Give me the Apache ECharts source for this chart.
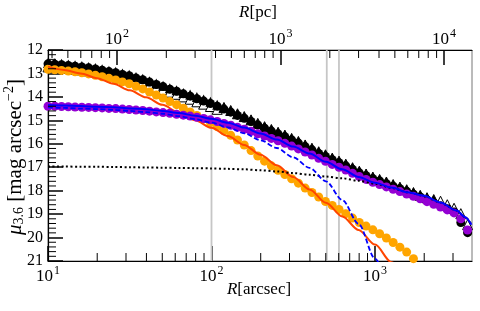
<!DOCTYPE html>
<html>
<head>
<meta charset="utf-8">
<script src="https://cdn.jsdelivr.net/npm/echarts@6/dist/echarts.min.js"></script>
<style>html,body{margin:0;padding:0;background:#fff}#c{width:480px;height:311px}</style>
</head>
<body>
<div id="c"></div>
<script>
// ---------- data ----------
const radius = [10,11,12.1,13.31,14.64,16.11,17.72,19.49,21.44,23.58,
  25.94,28.53,31.38,34.52,37.97,41.77,45.95,50.54,55.6,61.16,
  67.27,74.0,81.4,89.54,98.5,108.35,119.18,131.1,144.2,158.6,
  174.5,191.9,211.1,232.3,255.5,281.0,309.1,340.0,374.0,411.4,
  452.6,497.9,547.7,602.4,662.7,728.9,801.8,882.0,970.2,1067.2,
  1173.9,1291.3,1420.4,1562.5,1718.7,1890.6,2079.6,2287.6,2516.4,2768.0,
  3044.8,3349.3,3684.2];

const totalMu = [12.59,12.61,12.63,12.66,12.69,12.72,12.76,12.81,12.86,12.92,
  12.97,13.04,13.10,13.19,13.27,13.37,13.47,13.56,13.67,13.76,
  13.87,13.97,14.08,14.18,14.28,14.40,14.52,14.65,14.79,14.91,
  15.05,15.20,15.34,15.46,15.58,15.70,15.84,15.97,16.12,16.26,
  16.41,16.54,16.68,16.81,16.94,17.09,17.24,17.36,17.49,17.59,
  17.70,17.81,17.92,18.03,18.15,18.27,18.40,18.52,18.65,18.77,
  18.91,19.36,19.79];

const triFilledMu = [12.55,12.57,12.59,12.62,12.65,12.68,12.72,12.77,12.82,12.88,
  12.93,13.00,13.06,13.15,13.23,13.33,13.43,13.52,13.63,13.72,
  13.83,13.90,14.01,14.11,14.21,14.33,14.45,14.58,14.72,14.84,
  14.98,15.13,15.27,15.39,15.51,15.63,15.77,15.90,16.05,16.19,
  16.34,16.47,16.61,16.74,16.87,17.02,17.17,17.29,17.42,17.52,
  17.63,17.74,17.85,17.96,18.08,18.20,18.30,18.38];

const triOpenMu = [12.72,12.74,12.76,12.79,12.82,12.85,12.89,12.94,12.99,13.05,
  13.10,13.17,13.23,13.32,13.40,13.50,13.60,13.69,13.80,13.89,
  14.00,14.10,14.21,14.31,14.41,14.53,14.45,14.58,14.72,14.84,
  14.98,15.13,15.27,15.39,15.51,15.63,15.77,15.90,16.05,16.19,
  16.34,16.47,16.61,16.74,16.87,17.02,17.17,17.29,17.42,17.52,
  17.63,17.74,17.85,17.96,18.08,18.20,18.30,18.38,18.45,18.60,
  18.75,18.98,19.45];

const bulgeMu = [12.82,12.84,12.87,12.90,12.93,12.97,13.02,13.08,13.14,13.21,
  13.28,13.36,13.44,13.55,13.66,13.79,13.92,14.05,14.20,14.33,
  14.48,14.64,14.79,14.94,15.09,15.27,15.45,15.64,15.84,16.05,
  16.29,16.52,16.74,16.94,17.13,17.31,17.49,17.68,17.89,18.08,
  18.27,18.46,18.63,18.80,18.98,19.17,19.36,19.51,19.67,19.84,
  20.02,20.21,20.41,20.62,20.90];

const diskMu = [14.40,14.40,14.41,14.42,14.43,14.44,14.45,14.46,14.47,14.49,
  14.50,14.52,14.54,14.56,14.58,14.61,14.64,14.67,14.70,14.74,
  14.78,14.82,14.87,14.92,14.98,15.05,15.13,15.21,15.30,15.38,
  15.47,15.57,15.67,15.77,15.87,15.98,16.10,16.22,16.35,16.48,
  16.62,16.75,16.88,17.00,17.12,17.26,17.40,17.52,17.64,17.74,
  17.84,17.94,18.04,18.14,18.24,18.35,18.47,18.58,18.70,18.82,
  18.95,19.20,19.68];

const modelR = [10,12.59,15.85,19.95,25.12,31.62,39.81,50.12,63.10,79.43,
  100,125.9,158.5,199.5,251.2,316.2,398.1,501.2,631.0,794.3,
  1000,1259,1585,1995,2512,3162,3548,3890];

const bulgeModel = [12.71,12.85,13.00,13.20,13.44,13.72,14.02,14.34,14.67,15.00,
  15.32,15.67,16.05,16.47,16.92,17.42,17.95,18.52,19.10,19.68,
  20.30,21.05,21.80];

const innerDiskModel = [14.45,14.47,14.50,14.52,14.55,14.60,14.65,14.72,14.82,14.95,
  15.10,15.30,15.55,15.85,16.18,16.58,17.03,17.60,18.40,19.42,
  20.90,22.60];

const outerDiskModel = [16.97,16.97,16.98,16.98,16.99,17.00,17.01,17.02,17.03,17.04,
  17.05,17.07,17.09,17.13,17.18,17.25,17.32,17.40,17.47,17.58,
  17.70,17.88,18.07,18.22,18.50,18.85,19.12,19.45];

const diskModel = [14.35,14.37,14.39,14.42,14.44,14.49,14.53,14.60,14.69,14.80,
  14.93,15.10,15.31,15.56,15.82,16.12,16.42,16.77,17.09,17.42,
  17.66,17.87,18.07,18.22,18.50,18.85,19.12,19.45];

const refLinesArcsec = [100, 507, 602];

const arcsecMinor = [20,30,40,50,60,70,80,90,200,300,400,500,600,700,800,900,2000,3000];
const pcMinor = [40,50,60,70,80,90,200,300,400,500,600,700,800,900,2000,3000,4000,5000,6000,7000,8000,9000];
const muMinor = [12.2,12.4,12.6,12.8,13.2,13.4,13.6,13.8,14.2,14.4,14.6,14.8,15.2,15.4,15.6,15.8,
  16.2,16.4,16.6,16.8,17.2,17.4,17.6,17.8,18.2,18.4,18.6,18.8,19.2,19.4,19.6,19.8,20.2,20.4,20.6,20.8];

const xMin = 10, xMax = 3920, yMin = 12, yMax = 21;
const pcPerArcsec = 3.78;

// ---------- chart ----------
const FONT = '"Liberation Serif", "DejaVu Serif", serif';
const pairs = (xs, ys) => ys.map((y, i) => [xs[i], y]);
const supRich = {
  b: {fontFamily: FONT, fontSize: 17, color: '#000', lineHeight: 20, verticalAlign: 'bottom'},
  s: {fontFamily: FONT, fontSize: 12, color: '#000', lineHeight: 12, verticalAlign: 'top', padding: [0, 0, 0, 1]}
};
const powFmt = v => '{b|10}{s|' + Math.round(Math.log10(v)) + '}';

function tickSeries(data, xIdx, yVal, dx, dy, len, w) {
  return {
    type: 'custom', xAxisIndex: xIdx, yAxisIndex: 0, silent: true, z: 20, clip: false,
    data: data.map(v => dx ? [xMin, v] : [v, yVal]),
    renderItem: (params, api) => {
      const p = api.coord([api.value(0), api.value(1)]);
      return {type: 'line', shape: {x1: p[0], y1: p[1], x2: p[0] + dx * len, y2: p[1] + dy * len},
              style: {stroke: '#000', lineWidth: w}};
    }
  };
}

const chart = echarts.init(document.getElementById('c'), null, {renderer: 'canvas'});
chart.setOption({
  animation: false,
  backgroundColor: '#fff',
  grid: {left: 48, right: 8, top: 50, bottom: 50, show: true, borderColor: '#777', borderWidth: 1},
  xAxis: [{
    type: 'log', min: xMin, max: xMax, position: 'bottom',
    axisLine: {onZero: false, lineStyle: {color: '#000', width: 1.2}},
    axisTick: {inside: true, length: 15, lineStyle: {width: 1.5}},
    axisLabel: {formatter: powFmt, rich: supRich, margin: 4, showMaxLabel: false, color: '#000'},
    splitLine: {show: false}
  }, {
    type: 'log', min: xMin * pcPerArcsec, max: xMax * pcPerArcsec, position: 'top',
    axisLine: {onZero: false, lineStyle: {color: '#000', width: 1.2}},
    axisTick: {inside: true, length: 15, lineStyle: {width: 1.5}},
    axisLabel: {formatter: powFmt, rich: supRich, margin: 2, showMinLabel: false, showMaxLabel: false, color: '#000'},
    splitLine: {show: false}
  }],
  yAxis: [{
    type: 'value', inverse: true, min: yMin, max: yMax, interval: 1,
    axisLine: {onZero: false, lineStyle: {color: '#000', width: 1.2}},
    axisTick: {inside: true, length: 15, lineStyle: {width: 1.5}},
    axisLabel: {fontFamily: FONT, fontSize: 16, color: '#000', margin: 5},
    splitLine: {show: false}
  }],
  graphic: [
    {type: 'text', x: 258, y: 13, style: {text: '{i|R}[pc]', align: 'center', verticalAlign: 'middle',
      font: '17px ' + FONT, fill: '#000', rich: {i: {fontFamily: FONT, fontSize: 17, fontStyle: 'italic'}}}},
    {type: 'text', x: 259, y: 290, style: {text: '{i|R}[arcsec]', align: 'center', verticalAlign: 'middle',
      font: '17px ' + FONT, fill: '#000', rich: {i: {fontFamily: FONT, fontSize: 17, fontStyle: 'italic'}}}},
    {type: 'text', x: 14, y: 157, rotation: Math.PI / 2,
      style: {text: '{i|μ}{sub|3.6}{t| [mag arcsec}{sup|−2}{t|]}', align: 'center', verticalAlign: 'middle',
        font: '20px ' + FONT, fill: '#000',
        rich: {
          i: {fontFamily: FONT, fontSize: 21, fontStyle: 'italic', lineHeight: 24, verticalAlign: 'bottom'},
          t: {fontFamily: FONT, fontSize: 21, lineHeight: 24, verticalAlign: 'bottom'},
          sub: {fontFamily: FONT, fontSize: 14, lineHeight: 14, verticalAlign: 'bottom'},
          sup: {fontFamily: FONT, fontSize: 14, lineHeight: 14, verticalAlign: 'top'}
        }}}
  ],
  series: [
    {
      type: 'custom', name: 'ref', silent: true, z: 1,
      data: refLinesArcsec.map(v => [v, yMin]),
      renderItem: (params, api) => {
        const a = api.coord([api.value(0), yMin]);
        const b = api.coord([api.value(0), yMax]);
        return {type: 'line', shape: {x1: a[0], y1: a[1], x2: b[0], y2: b[1]},
                style: {stroke: '#c6c6c6', lineWidth: 1.8}};
      }
    },
    {type: 'scatter', name: 'open tri', z: 2, symbol: 'triangle', symbolSize: 10,
     itemStyle: {color: '#fff', borderColor: '#000', borderWidth: 1, opacity: 1}, data: pairs(radius, triOpenMu)},
    {type: 'scatter', name: 'tri', z: 3, symbol: 'triangle', symbolSize: 10,
     itemStyle: {color: '#000', opacity: 1}, data: pairs(radius, triFilledMu)},
    {type: 'scatter', name: 'total', z: 4, symbol: 'circle', symbolSize: 9,
     itemStyle: {color: '#000', opacity: 1}, data: pairs(radius, totalMu)},
    {type: 'scatter', name: 'bulge', z: 5, symbol: 'circle', symbolSize: 9,
     itemStyle: {color: '#FFA500', opacity: 1}, data: pairs(radius, bulgeMu)},
    {type: 'line', name: 'bulge model', z: 6, showSymbol: false, smooth: 0.3, smoothMonotone: 'x',
     lineStyle: {color: '#FF4500', width: 2}, data: pairs(modelR, bulgeModel)},
    {type: 'scatter', name: 'disk', z: 7, symbol: 'circle', symbolSize: 9,
     itemStyle: {color: '#9400D3', opacity: 1}, data: pairs(radius, diskMu)},
    {type: 'line', name: 'outer', z: 8, showSymbol: false, smooth: 0.3, smoothMonotone: 'x',
     lineStyle: {color: '#000', width: 2, type: [2, 2.5]}, data: pairs(modelR, outerDiskModel)},
    {type: 'line', name: 'inner', z: 9, showSymbol: false, smooth: 0.3, smoothMonotone: 'x',
     lineStyle: {color: '#0000FF', width: 1.8, type: [5, 2.5]}, data: pairs(modelR, innerDiskModel)},
    {type: 'line', name: 'disk model', z: 10, showSymbol: false, smooth: 0.3, smoothMonotone: 'x',
     lineStyle: {color: '#0000FF', width: 2}, data: pairs(modelR, diskModel)},
    tickSeries(arcsecMinor, 0, yMax, 0, -1, 8, 1),
    tickSeries(pcMinor, 1, yMin, 0, 1, 8, 1),
    tickSeries(muMinor, 0, 0, 1, 0, 8, 1)
  ]
});
</script>
</body>
</html>
